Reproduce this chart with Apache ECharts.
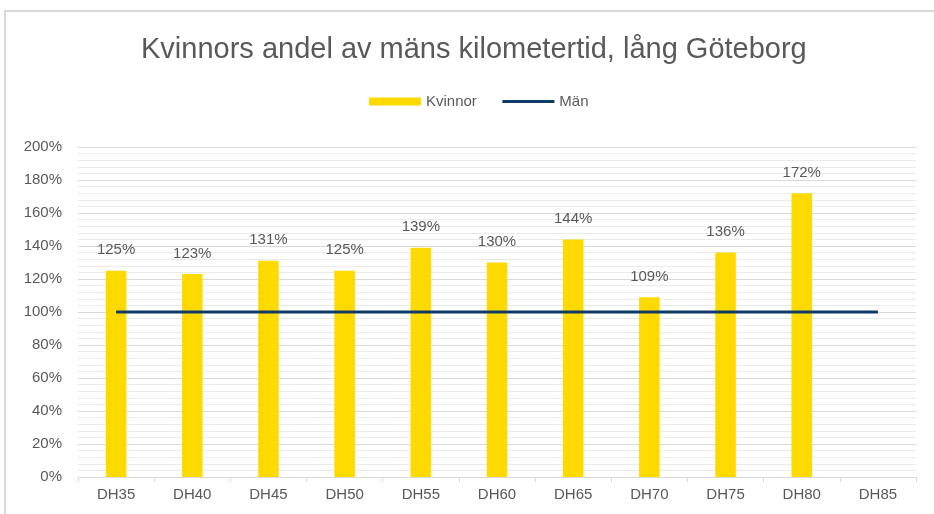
<!DOCTYPE html>
<html>
<head>
<meta charset="utf-8">
<script src="https://cdn.jsdelivr.net/npm/echarts@6/dist/echarts.min.js"></script>
<style>
  html, body { margin: 0; padding: 0; background: #fff; }
  #chart { width: 934px; height: 514px; }
</style>
</head>
<body>
<div id="chart"></div>
<script>
const categories = ["DH35", "DH40", "DH45", "DH50", "DH55", "DH60", "DH65", "DH70", "DH75", "DH80", "DH85"];
const kvinnor = [125, 123, 131, 125, 139, 130, 144, 109, 136, 172, null];
const man = [100, 100, 100, 100, 100, 100, 100, 100, 100, 100, 100];

const textColor = "#595959";
const chart = echarts.init(document.getElementById("chart"));

chart.setOption({
  animation: false,
  textStyle: { fontFamily: "Liberation Sans, Arial, sans-serif" },
  graphic: [
    {
      type: "rect",
      shape: { x: 5, y: 11, width: 1000, height: 600 },
      style: { fill: "none", stroke: "#d9d9d9", lineWidth: 2 },
      silent: true
    }
  ],
  title: {
    text: "Kvinnors andel av mäns kilometertid, lång Göteborg",
    left: 136,
    top: 30,
    textStyle: { fontSize: 29, fontWeight: "normal", color: textColor }
  },
  legend: {
    top: 89,
    left: 364,
    itemGap: 24,
    itemWidth: 52,
    itemHeight: 8,
    textStyle: { fontSize: 15, color: textColor },
    data: [
      { name: "Kvinnor", icon: "rect" },
      { name: "Män", itemStyle: { opacity: 0 }, lineStyle: { width: 3 } }
    ]
  },
  grid: { left: 78, right: 18, top: 147, bottom: 37, containLabel: false },
  xAxis: {
    type: "category",
    data: categories,
    axisLine: { lineStyle: { color: "#d9d9d9", width: 1 } },
    axisTick: { show: true, length: 5, lineStyle: { color: "#d9d9d9" } },
    axisLabel: { fontSize: 15, color: textColor, margin: 10 }
  },
  yAxis: {
    type: "value",
    min: 0,
    max: 200,
    interval: 20,
    axisLabel: { fontSize: 15, color: textColor, margin: 16, formatter: "{value}%" },
    axisLine: { show: false },
    axisTick: { show: false },
    splitLine: { lineStyle: { color: "#d9d9d9", width: 1 } },
    minorTick: { show: false, splitNumber: 5 },
    minorSplitLine: { show: true, lineStyle: { color: "#ebebeb", width: 1 } }
  },
  series: [
    {
      name: "Kvinnor",
      type: "bar",
      data: kvinnor,
      barWidth: "27%",
      itemStyle: { color: "#FFDA00" },
      label: {
        show: true,
        position: "top",
        distance: 13,
        fontSize: 15,
        color: textColor,
        formatter: (p) => p.value + "%"
      }
    },
    {
      name: "Män",
      type: "line",
      data: man,
      symbol: "none",
      lineStyle: { color: "#0D3B66", width: 3 },
      itemStyle: { color: "#0D3B66" }
    }
  ]
});
</script>
</body>
</html>
